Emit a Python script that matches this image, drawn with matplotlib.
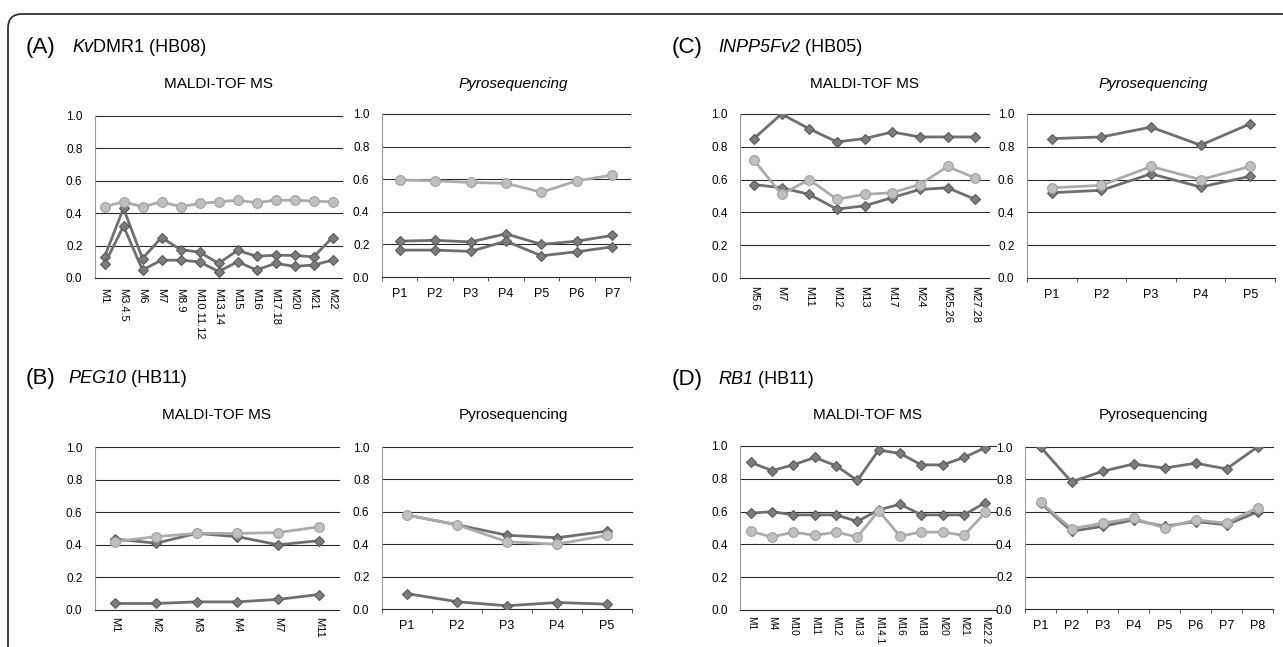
import matplotlib
matplotlib.use("Agg")
import numpy as np
import matplotlib.pyplot as plt
from matplotlib.patches import FancyBboxPatch
from matplotlib.transforms import IdentityTransform

plt.rcParams['font.family'] = ['Liberation Sans', 'DejaVu Sans']

# ---- data ----
# (A) KvDMR1
a_maldi_labels = ['M1', 'M3.4.5', 'M6', 'M7', 'M8.9', 'M10.11.12', 'M13.14',
                  'M15', 'M16', 'M17.18', 'M20', 'M21', 'M22']
a_maldi_d1 = [0.13, 0.43, 0.12, 0.25, 0.175, 0.16, 0.09, 0.17, 0.135, 0.14, 0.14, 0.13, 0.25]
a_maldi_d2 = [0.085, 0.32, 0.05, 0.11, 0.11, 0.10, 0.04, 0.10, 0.05, 0.09, 0.072, 0.08, 0.11]
a_maldi_c = [0.44, 0.47, 0.44, 0.47, 0.44, 0.46, 0.47, 0.48, 0.465, 0.48, 0.48, 0.475, 0.47]
a_pyro_labels = ['P1', 'P2', 'P3', 'P4', 'P5', 'P6', 'P7']
a_pyro_d1 = [0.22, 0.225, 0.215, 0.265, 0.20, 0.22, 0.255]
a_pyro_d2 = [0.165, 0.165, 0.157, 0.22, 0.13, 0.155, 0.185]
a_pyro_c = [0.595, 0.59, 0.58, 0.575, 0.52, 0.59, 0.625]

# (B) PEG10
b_maldi_labels = ['M1', 'M2', 'M3', 'M4', 'M7', 'M11']
b_maldi_d1 = [0.435, 0.41, 0.47, 0.45, 0.40, 0.425]
b_maldi_d2 = [0.04, 0.04, 0.05, 0.05, 0.065, 0.095]
b_maldi_c = [0.42, 0.45, 0.47, 0.47, 0.475, 0.51]
b_pyro_labels = ['P1', 'P2', 'P3', 'P4', 'P5']
b_pyro_d1 = [0.58, 0.52, 0.455, 0.44, 0.48]
b_pyro_d2 = [0.095, 0.045, 0.02, 0.04, 0.03]
b_pyro_c = [0.58, 0.52, 0.415, 0.40, 0.455]

# (C) INPP5Fv2
c_maldi_labels = ['M5.6', 'M7', 'M11', 'M12', 'M13', 'M17', 'M24', 'M25.26', 'M27.28']
c_maldi_d1 = [0.85, 1.0, 0.91, 0.83, 0.85, 0.89, 0.86, 0.86, 0.86]
c_maldi_d2 = [0.57, 0.55, 0.51, 0.42, 0.44, 0.49, 0.54, 0.55, 0.48]
c_maldi_c = [0.72, 0.51, 0.60, 0.48, 0.51, 0.52, 0.57, 0.68, 0.61]
c_pyro_labels = ['P1', 'P2', 'P3', 'P4', 'P5']
c_pyro_d1 = [0.85, 0.86, 0.92, 0.81, 0.94]
c_pyro_d2 = [0.52, 0.535, 0.635, 0.555, 0.62]
c_pyro_c = [0.55, 0.565, 0.68, 0.60, 0.68]

# (D) RB1
d_maldi_labels = ['M1', 'M4', 'M10', 'M11', 'M12', 'M13', 'M14.1', 'M16',
                  'M18', 'M20', 'M21', 'M22.2']
d_maldi_d1 = [0.90, 0.85, 0.885, 0.93, 0.88, 0.79, 0.975, 0.955, 0.885, 0.885, 0.93, 0.99]
d_maldi_d2 = [0.59, 0.60, 0.58, 0.58, 0.58, 0.54, 0.61, 0.645, 0.58, 0.58, 0.58, 0.655]
d_maldi_c = [0.48, 0.445, 0.475, 0.455, 0.475, 0.445, 0.605, 0.45, 0.475, 0.475, 0.455, 0.595]
d_pyro_labels = ['P1', 'P2', 'P3', 'P4', 'P5', 'P6', 'P7', 'P8']
d_pyro_d1 = [1.0, 0.785, 0.85, 0.895, 0.87, 0.90, 0.865, 1.0]
d_pyro_d2 = [0.655, 0.48, 0.51, 0.55, 0.51, 0.54, 0.52, 0.60]
d_pyro_c = [0.66, 0.495, 0.53, 0.56, 0.50, 0.55, 0.53, 0.625]

W, H = 1283, 647
fig = plt.figure(figsize=(W / 100, H / 100), dpi=100)
fig.patch.set_facecolor('white')

# rounded outer frame (pixel coordinates)
frame = FancyBboxPatch((8, -40), 1320, 633 + 40, boxstyle="round,pad=0,rounding_size=14",
                       transform=IdentityTransform(), fill=False, edgecolor='#333333',
                       linewidth=1.3, clip_on=False)
fig.patches.append(frame)


def px_axes(x0, x1, ytop, ybot):
    return fig.add_axes([x0 / W, 1 - ybot / H, (x1 - x0) / W, (ybot - ytop) / H])


def draw(ax, labels, d1, d2, c, maldi, lab_size=8, lab_pad=6):
    x = np.arange(len(labels))
    ax.plot(x, d1, color='#6f6f6f', lw=2, marker='D', ms=5.5,
            mfc='#7c7c7c', mec='#5a5a5a', mew=0.8, zorder=3)
    ax.plot(x, d2, color='#6f6f6f', lw=2, marker='D', ms=5.5,
            mfc='#7c7c7c', mec='#5a5a5a', mew=0.8, zorder=3)
    ax.plot(x, c, color='#ababab', lw=2, marker='o', ms=7,
            mfc='#c0c0c0', mec='#a0a0a0', mew=0.8, zorder=4)
    ax.set_xlim(-0.5, len(labels) - 0.5)
    ax.set_ylim(0, 1.0)
    ax.set_yticks([0.0, 0.2, 0.4, 0.6, 0.8, 1.0])
    ax.set_yticklabels(['0.0', '0.2', '0.4', '0.6', '0.8', '1.0'], fontsize=8.5)
    ax.tick_params(axis='y', length=0, pad=9)
    for v in [0.2, 0.4, 0.6, 0.8, 1.0]:
        ax.axhline(v, color='#2a2a2a', lw=0.8, zorder=1, clip_on=False)
    for s in ['top', 'right']:
        ax.spines[s].set_visible(False)
    ax.spines['left'].set_color('#9a9a9a')
    ax.spines['left'].set_linewidth(0.8)
    ax.spines['bottom'].set_color('#2a2a2a')
    ax.spines['bottom'].set_linewidth(0.8)
    if maldi:
        ax.set_xticks(x)
        ax.set_xticklabels(labels, rotation=-90, fontsize=lab_size, va='top', ha='center')
        ax.tick_params(axis='x', length=0, pad=lab_pad)
    else:
        ax.set_xticks(np.arange(len(labels) + 1) - 0.5)
        ax.set_xticklabels([])
        ax.set_xticks(x, minor=True)
        ax.set_xticklabels(labels, minor=True, fontsize=9)
        ax.tick_params(axis='x', which='major', length=3, width=0.7, color='#555555')
        ax.tick_params(axis='x', which='minor', length=0, pad=8)


# axes boxes in pixels: (left, right, top, bottom)
ax_a1 = px_axes(95, 342, 116, 278)
ax_a2 = px_axes(382, 630, 114, 277)
ax_c1 = px_axes(740, 989, 114, 278)
ax_c2 = px_axes(1027, 1275, 114, 278)
ax_b1 = px_axes(95, 339, 447, 610)
ax_b2 = px_axes(382, 632, 447, 609)
ax_d1 = px_axes(740, 996, 446, 610)
ax_d2 = px_axes(1025, 1273, 447, 609)

draw(ax_a1, a_maldi_labels, a_maldi_d1, a_maldi_d2, a_maldi_c, True, lab_pad=7)
draw(ax_a2, a_pyro_labels, a_pyro_d1, a_pyro_d2, a_pyro_c, False)
draw(ax_b1, b_maldi_labels, b_maldi_d1, b_maldi_d2, b_maldi_c, True, lab_pad=5)
draw(ax_b2, b_pyro_labels, b_pyro_d1, b_pyro_d2, b_pyro_c, False)
draw(ax_c1, c_maldi_labels, c_maldi_d1, c_maldi_d2, c_maldi_c, True)
draw(ax_c2, c_pyro_labels, c_pyro_d1, c_pyro_d2, c_pyro_c, False)
draw(ax_d1, d_maldi_labels, d_maldi_d1, d_maldi_d2, d_maldi_c, True, lab_size=7.3, lab_pad=4)
draw(ax_d2, d_pyro_labels, d_pyro_d1, d_pyro_d2, d_pyro_c, False)

renderer = fig.canvas.get_renderer()


def ftext(x, y, s, **kw):
    return fig.text(x / W, 1 - y / H, s, **kw)


def heading(x, y, parts, size=13):
    # parts: list of (text, style) placed one after another
    for s, st in parts:
        t = ftext(x, y, s, fontsize=size, style=st)
        x += t.get_window_extent(renderer).width


# panel headings
ftext(26, 53, '(A)', fontsize=16)
heading(72, 52, [('Kv', 'italic'), ('DMR1 (HB08)', 'normal')])
ftext(672, 53, '(C)', fontsize=16)
heading(718, 52, [('INPP5Fv2', 'italic'), (' (HB05)', 'normal')])
ftext(26, 384, '(B)', fontsize=16)
heading(68, 383, [('PEG10', 'italic'), (' (HB11)', 'normal')])
ftext(672, 385, '(D)', fontsize=16)
heading(718, 384, [('RB1', 'italic'), (' (HB11)', 'normal')])

# sub titles
ftext(218, 88, 'MALDI-TOF MS', fontsize=11, ha='center')
ftext(513, 88, 'Pyrosequencing', fontsize=11, ha='center', style='italic')
ftext(864, 88, 'MALDI-TOF MS', fontsize=11, ha='center')
ftext(1153, 88, 'Pyrosequencing', fontsize=11, ha='center', style='italic')
ftext(217, 419, 'MALDI-TOF MS', fontsize=11, ha='center')
ftext(513, 419, 'Pyrosequencing', fontsize=11, ha='center')
ftext(868, 419, 'MALDI-TOF MS', fontsize=11, ha='center')
ftext(1153, 419, 'Pyrosequencing', fontsize=11, ha='center')

fig.savefig('out.png', dpi=100)
